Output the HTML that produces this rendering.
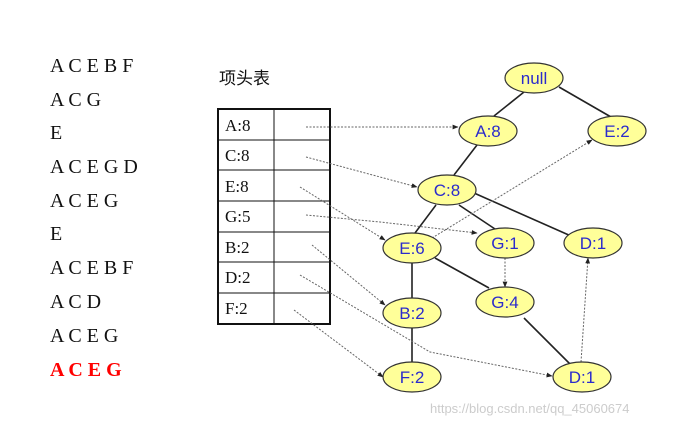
<!DOCTYPE html>
<html><head><meta charset="utf-8"><style>
body{margin:0;background:#fff;width:682px;height:427px;overflow:hidden}
svg{display:block}
</style></head><body>
<svg width="682" height="427" viewBox="0 0 682 427" xmlns="http://www.w3.org/2000/svg">
<defs>
<marker id="ar" viewBox="0 0 10 10" refX="9" refY="5" markerWidth="6" markerHeight="6" orient="auto"><path d="M0,1 L10,5 L0,9 z" fill="#222"/></marker>
</defs>
<g font-family="Liberation Serif, serif" font-size="20" fill="#111">
<text x="50" y="72">A C E B F</text>
<text x="50" y="106">A C G</text>
<text x="50" y="139">E</text>
<text x="50" y="173">A C E G D</text>
<text x="50" y="207">A C E G</text>
<text x="50" y="240">E</text>
<text x="50" y="274">A C E B F</text>
<text x="50" y="308">A C D</text>
<text x="50" y="342">A C E G</text>
<text x="50" y="376" fill="#f00" font-weight="bold">A C E G</text>
</g>
<text x="219" y="84" font-family="Noto Sans CJK SC, sans-serif" font-size="17" fill="#111">项头表</text>
<g stroke="#111" fill="none">
<rect x="218" y="109" width="112" height="215" stroke-width="2"/>
<line x1="274" y1="109" x2="274" y2="324" stroke-width="1"/>
<line x1="218" y1="140" x2="330" y2="140"/>
<line x1="218" y1="170" x2="330" y2="170"/>
<line x1="218" y1="201" x2="330" y2="201"/>
<line x1="218" y1="232" x2="330" y2="232"/>
<line x1="218" y1="262" x2="330" y2="262"/>
<line x1="218" y1="293" x2="330" y2="293"/>
</g>
<g font-family="Liberation Serif, serif" font-size="17" fill="#111">
<text x="225" y="131">A:8</text>
<text x="225" y="161">C:8</text>
<text x="225" y="192">E:8</text>
<text x="225" y="222">G:5</text>
<text x="225" y="253">B:2</text>
<text x="225" y="283">D:2</text>
<text x="225" y="314">F:2</text>
</g>
<!-- solid tree edges -->
<g stroke="#222" stroke-width="1.6">
<line x1="524" y1="92" x2="494" y2="116"/>
<line x1="559" y1="87" x2="611" y2="117"/>
<line x1="477" y1="145" x2="454" y2="175"/>
<line x1="436" y1="205" x2="415" y2="233"/>
<line x1="459" y1="205" x2="495" y2="229"/>
<line x1="474" y1="193" x2="571" y2="236"/>
<line x1="412" y1="263" x2="412" y2="298"/>
<line x1="412" y1="328" x2="412" y2="362"/>
<line x1="435" y1="258" x2="489" y2="288"/>
<line x1="524" y1="318" x2="571" y2="365"/>
</g>
<!-- dotted links -->
<g stroke="#666" stroke-width="1" stroke-dasharray="2,1.5" fill="none" marker-end="url(#ar)">
<line x1="306" y1="127" x2="458" y2="127"/>
<line x1="306" y1="157" x2="417" y2="187"/>
<line x1="300" y1="187" x2="385" y2="240"/>
<polyline points="306,215 380,222 477,233"/>
<line x1="312" y1="245" x2="385" y2="305"/>
<polyline points="300,275 430,352 552,376"/>
<line x1="294" y1="310" x2="383" y2="377"/>
<line x1="432" y1="238" x2="592" y2="140"/>
<line x1="505" y1="258" x2="505" y2="287"/>
<line x1="581" y1="362" x2="588" y2="258"/>
</g>
<g fill="#ffff99" stroke="#333" stroke-width="1.2">
<ellipse cx="534" cy="78" rx="29" ry="15"/>
<ellipse cx="488" cy="131" rx="29" ry="15"/>
<ellipse cx="617" cy="131" rx="29" ry="15"/>
<ellipse cx="447" cy="190" rx="29" ry="15"/>
<ellipse cx="412" cy="248" rx="29" ry="15"/>
<ellipse cx="505" cy="243" rx="29" ry="15"/>
<ellipse cx="593" cy="243" rx="29" ry="15"/>
<ellipse cx="505" cy="302" rx="29" ry="15"/>
<ellipse cx="412" cy="313" rx="29" ry="15"/>
<ellipse cx="412" cy="377" rx="29" ry="15"/>
<ellipse cx="582" cy="377" rx="29" ry="15"/>
</g>
<g font-family="Liberation Sans, sans-serif" font-size="17" fill="#2b2bcc" text-anchor="middle">
<text x="534" y="84">null</text>
<text x="488" y="137">A:8</text>
<text x="617" y="137">E:2</text>
<text x="447" y="196">C:8</text>
<text x="412" y="254">E:6</text>
<text x="505" y="249">G:1</text>
<text x="593" y="249">D:1</text>
<text x="505" y="308">G:4</text>
<text x="412" y="319">B:2</text>
<text x="412" y="383">F:2</text>
<text x="582" y="383">D:1</text>
</g>
<text x="430" y="413" font-family="Liberation Sans, sans-serif" font-size="13" fill="#ccc">https://blog.csdn.net/qq_45060674</text>
</svg>
</body></html>
